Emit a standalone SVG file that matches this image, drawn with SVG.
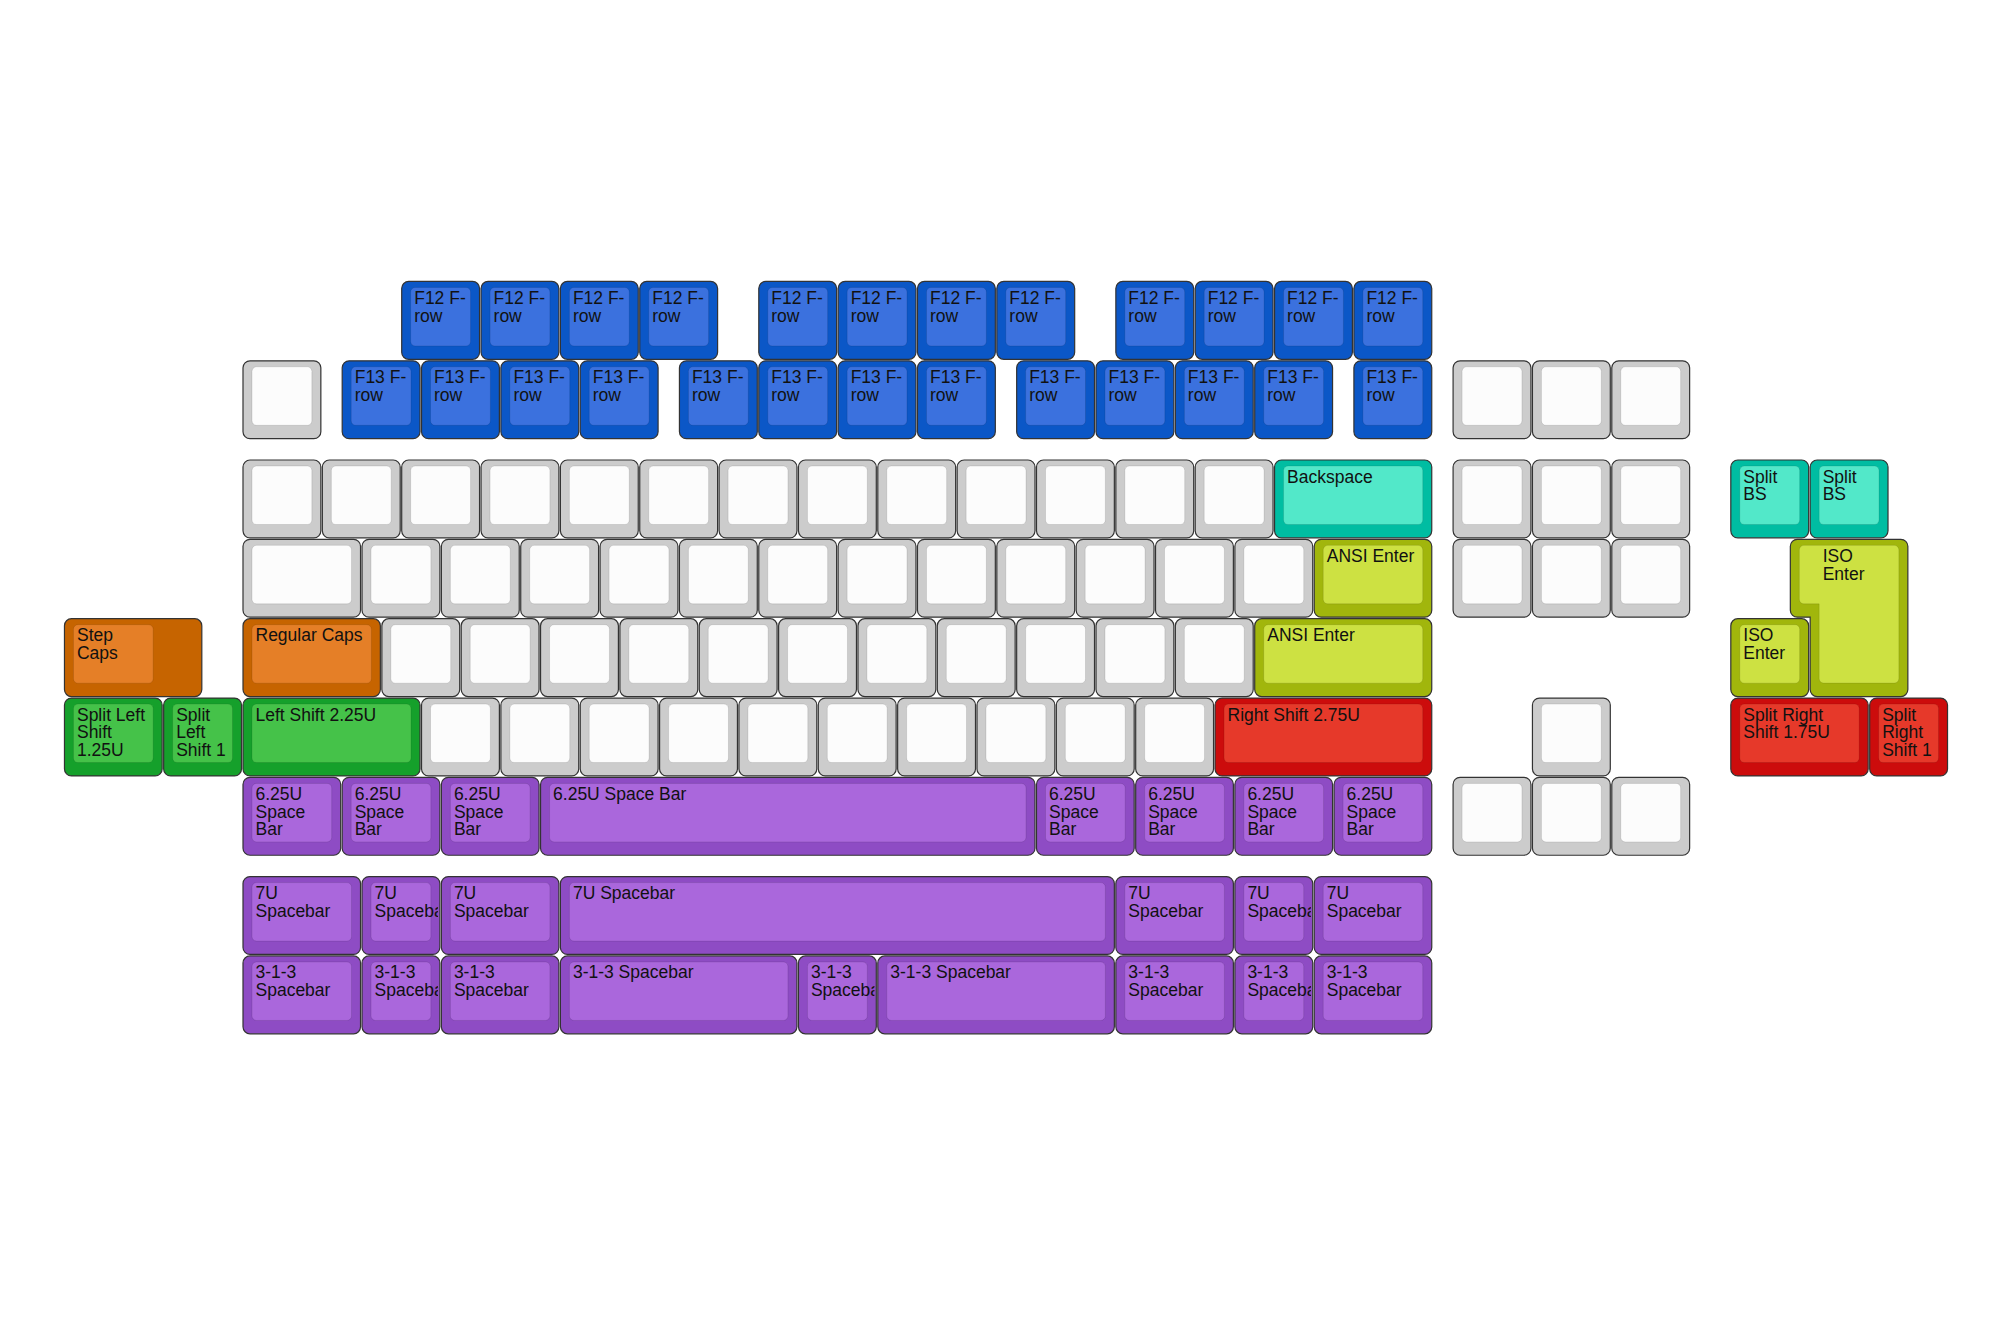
<svg xmlns="http://www.w3.org/2000/svg" width="2000" height="1333" viewBox="0 0 2000 1333">
<style>
.o{stroke:#333;stroke-width:1.2}
.i{stroke:#000;stroke-opacity:.1;stroke-width:1}
.og{fill:#cccccc}.ig{fill:#fcfcfc}
.ob{fill:#0b57c7}.ib{fill:#3b71de}
.ot{fill:#00bda2}.it{fill:#52e8c9}
.oy{fill:#a1b60c}.iy{fill:#cde142}
.oo{fill:#c66400}.io{fill:#e57f27}
.ogr{fill:#15a02b}.igr{fill:#45c249}
.or{fill:#cc0c0c}.ir{fill:#e6392a}
.op{fill:#8e4cc4}.ip{fill:#aa67dc}
text{font-family:"Liberation Sans",Arial,Helvetica,sans-serif;font-size:17.5px;fill:#111}
</style>
<defs>
<clipPath id="c1" clipPathUnits="userSpaceOnUse"><rect x="0" y="0" width="76" height="78"/></clipPath>
<g id="g1"><rect class="o og" width="77.85" height="77.85" rx="7"/><rect class="i ig" x="9" y="6" width="59.85" height="58.5" rx="4.5"/></g>
<g id="p1"><rect class="o op" width="77.85" height="77.85" rx="7"/><rect class="i ip" x="9" y="6" width="59.85" height="58.5" rx="4.5"/></g>
<g id="f12"><rect class="o ob" width="77.85" height="77.85" rx="7"/><rect class="i ib" x="9" y="6" width="59.85" height="58.5" rx="4.5"/><text x="12.5" y="22.5">F12 F-<tspan x="12.5" dy="17.7">row</tspan></text></g>
<g id="f13"><rect class="o ob" width="77.85" height="77.85" rx="7"/><rect class="i ib" x="9" y="6" width="59.85" height="58.5" rx="4.5"/><text x="12.5" y="22.5">F13 F-<tspan x="12.5" dy="17.7">row</tspan></text></g>
<g id="p125"><rect class="o op" width="97.69" height="77.85" rx="7"/><rect class="i ip" x="9" y="6" width="79.69" height="58.5" rx="4.5"/><text x="12.5" y="22.5">6.25U<tspan x="12.5" dy="17.7">Space</tspan><tspan x="12.5" dy="17.7">Bar</tspan></text></g>
<g id="p15"><rect class="o op" width="117.53" height="77.85" rx="7"/><rect class="i ip" x="9" y="6" width="99.53" height="58.5" rx="4.5"/></g>
</defs>
<rect width="2000" height="1333" fill="#ffffff"/>

<g id="row-f12">
<g id="f12-1" transform="translate(401.7,281.46)"><use href="#f12"/></g>
<g id="f12-2" transform="translate(481.05,281.46)"><use href="#f12"/></g>
<g id="f12-3" transform="translate(560.4,281.46)"><use href="#f12"/></g>
<g id="f12-4" transform="translate(639.75,281.46)"><use href="#f12"/></g>
<g id="f12-5" transform="translate(758.78,281.46)"><use href="#f12"/></g>
<g id="f12-6" transform="translate(838.13,281.46)"><use href="#f12"/></g>
<g id="f12-7" transform="translate(917.48,281.46)"><use href="#f12"/></g>
<g id="f12-8" transform="translate(996.83,281.46)"><use href="#f12"/></g>
<g id="f12-9" transform="translate(1115.85,281.46)"><use href="#f12"/></g>
<g id="f12-10" transform="translate(1195.2,281.46)"><use href="#f12"/></g>
<g id="f12-11" transform="translate(1274.55,281.46)"><use href="#f12"/></g>
<g id="f12-12" transform="translate(1353.9,281.46)"><use href="#f12"/></g>
</g>

<g id="row-f13">
<g id="esc" transform="translate(243,360.81)"><use href="#g1"/></g>
<g id="f13-1" transform="translate(342.19,360.81)"><use href="#f13"/></g>
<g id="f13-2" transform="translate(421.54,360.81)"><use href="#f13"/></g>
<g id="f13-3" transform="translate(500.89,360.81)"><use href="#f13"/></g>
<g id="f13-4" transform="translate(580.24,360.81)"><use href="#f13"/></g>
<g id="f13-5" transform="translate(679.43,360.81)"><use href="#f13"/></g>
<g id="f13-6" transform="translate(758.78,360.81)"><use href="#f13"/></g>
<g id="f13-7" transform="translate(838.13,360.81)"><use href="#f13"/></g>
<g id="f13-8" transform="translate(917.48,360.81)"><use href="#f13"/></g>
<g id="f13-9" transform="translate(1016.66,360.81)"><use href="#f13"/></g>
<g id="f13-10" transform="translate(1096.01,360.81)"><use href="#f13"/></g>
<g id="f13-11" transform="translate(1175.36,360.81)"><use href="#f13"/></g>
<g id="f13-12" transform="translate(1254.71,360.81)"><use href="#f13"/></g>
<g id="f13-13" transform="translate(1353.9,360.81)"><use href="#f13"/></g>
<g id="nav0-1" transform="translate(1453.09,360.81)"><use href="#g1"/></g>
<g id="nav0-2" transform="translate(1532.44,360.81)"><use href="#g1"/></g>
<g id="nav0-3" transform="translate(1611.79,360.81)"><use href="#g1"/></g>
</g>

<g id="row-num">
<g id="n1" transform="translate(243,460)"><use href="#g1"/></g>
<g id="n2" transform="translate(322.35,460)"><use href="#g1"/></g>
<g id="n3" transform="translate(401.7,460)"><use href="#g1"/></g>
<g id="n4" transform="translate(481.05,460)"><use href="#g1"/></g>
<g id="n5" transform="translate(560.4,460)"><use href="#g1"/></g>
<g id="n6" transform="translate(639.75,460)"><use href="#g1"/></g>
<g id="n7" transform="translate(719.1,460)"><use href="#g1"/></g>
<g id="n8" transform="translate(798.45,460)"><use href="#g1"/></g>
<g id="n9" transform="translate(877.8,460)"><use href="#g1"/></g>
<g id="n10" transform="translate(957.15,460)"><use href="#g1"/></g>
<g id="n11" transform="translate(1036.5,460)"><use href="#g1"/></g>
<g id="n12" transform="translate(1115.85,460)"><use href="#g1"/></g>
<g id="n13" transform="translate(1195.2,460)"><use href="#g1"/></g>
<g id="backspace" transform="translate(1274.55,460)"><rect class="o ot" width="157.2" height="77.85" rx="7"/><rect class="i it" x="9" y="6" width="139.2" height="58.5" rx="4.5"/><text x="12.5" y="22.5">Backspace</text></g>
<g id="nav1-1" transform="translate(1453.09,460)"><use href="#g1"/></g>
<g id="nav1-2" transform="translate(1532.44,460)"><use href="#g1"/></g>
<g id="nav1-3" transform="translate(1611.79,460)"><use href="#g1"/></g>
<g id="split-bs-1" transform="translate(1730.81,460)"><rect class="o ot" width="77.85" height="77.85" rx="7"/><rect class="i it" x="9" y="6" width="59.85" height="58.5" rx="4.5"/><text x="12.5" y="22.5">Split<tspan x="12.5" dy="17.7">BS</tspan></text></g>
<g id="split-bs-2" transform="translate(1810.16,460)"><rect class="o ot" width="77.85" height="77.85" rx="7"/><rect class="i it" x="9" y="6" width="59.85" height="58.5" rx="4.5"/><text x="12.5" y="22.5">Split<tspan x="12.5" dy="17.7">BS</tspan></text></g>
</g>

<g id="row-tab">
<g id="tab" transform="translate(243,539.35)"><rect class="o og" width="117.53" height="77.85" rx="7"/><rect class="i ig" x="9" y="6" width="99.53" height="58.5" rx="4.5"/></g>
<g id="t1" transform="translate(362.03,539.35)"><use href="#g1"/></g>
<g id="t2" transform="translate(441.38,539.35)"><use href="#g1"/></g>
<g id="t3" transform="translate(520.73,539.35)"><use href="#g1"/></g>
<g id="t4" transform="translate(600.08,539.35)"><use href="#g1"/></g>
<g id="t5" transform="translate(679.43,539.35)"><use href="#g1"/></g>
<g id="t6" transform="translate(758.78,539.35)"><use href="#g1"/></g>
<g id="t7" transform="translate(838.13,539.35)"><use href="#g1"/></g>
<g id="t8" transform="translate(917.48,539.35)"><use href="#g1"/></g>
<g id="t9" transform="translate(996.83,539.35)"><use href="#g1"/></g>
<g id="t10" transform="translate(1076.18,539.35)"><use href="#g1"/></g>
<g id="t11" transform="translate(1155.53,539.35)"><use href="#g1"/></g>
<g id="t12" transform="translate(1234.88,539.35)"><use href="#g1"/></g>
<g id="ansi-enter-1" transform="translate(1314.23,539.35)"><rect class="o oy" width="117.53" height="77.85" rx="7"/><rect class="i iy" x="9" y="6" width="99.53" height="58.5" rx="4.5"/><text x="12.5" y="22.5">ANSI Enter</text></g>
<g id="nav2-1" transform="translate(1453.09,539.35)"><use href="#g1"/></g>
<g id="nav2-2" transform="translate(1532.44,539.35)"><use href="#g1"/></g>
<g id="nav2-3" transform="translate(1611.79,539.35)"><use href="#g1"/></g>
<g id="iso-enter-big" transform="translate(1790.33,539.35)"><path class="o oy" d="M7,0 H110.53 A7,7 0 0 1 117.53,7 V150.2 A7,7 0 0 1 110.53,157.2 H26.83 A7,7 0 0 1 19.83,150.2 V77.85 H7 A7,7 0 0 1 0,70.85 V7 A7,7 0 0 1 7,0 Z"/><path class="i iy" d="M13.5,6 H104.03 A4.5,4.5 0 0 1 108.53,10.5 V139.2 A4.5,4.5 0 0 1 104.03,143.7 H33.33 A4.5,4.5 0 0 1 28.83,139.2 V64.5 H13.5 A4.5,4.5 0 0 1 9,60 V10.5 A4.5,4.5 0 0 1 13.5,6 Z"/><text x="32.33" y="22.5">ISO<tspan x="32.33" dy="17.7">Enter</tspan></text></g>
</g>

<g id="row-caps">
<g id="step-caps" transform="translate(64.46,618.7)"><rect class="o oo" width="137.36" height="77.85" rx="7"/><rect class="i io" x="9" y="6" width="79.69" height="58.5" rx="4.5"/><text x="12.5" y="22.5">Step<tspan x="12.5" dy="17.7">Caps</tspan></text></g>
<g id="regular-caps" transform="translate(243,618.7)"><rect class="o oo" width="137.36" height="77.85" rx="7"/><rect class="i io" x="9" y="6" width="119.36" height="58.5" rx="4.5"/><text x="12.5" y="22.5">Regular Caps</text></g>
<g id="c1k" transform="translate(381.86,618.7)"><use href="#g1"/></g>
<g id="c2k" transform="translate(461.21,618.7)"><use href="#g1"/></g>
<g id="c3k" transform="translate(540.56,618.7)"><use href="#g1"/></g>
<g id="c4k" transform="translate(619.91,618.7)"><use href="#g1"/></g>
<g id="c5k" transform="translate(699.26,618.7)"><use href="#g1"/></g>
<g id="c6k" transform="translate(778.61,618.7)"><use href="#g1"/></g>
<g id="c7k" transform="translate(857.96,618.7)"><use href="#g1"/></g>
<g id="c8k" transform="translate(937.31,618.7)"><use href="#g1"/></g>
<g id="c9k" transform="translate(1016.66,618.7)"><use href="#g1"/></g>
<g id="c10k" transform="translate(1096.01,618.7)"><use href="#g1"/></g>
<g id="c11k" transform="translate(1175.36,618.7)"><use href="#g1"/></g>
<g id="ansi-enter-2" transform="translate(1254.71,618.7)"><rect class="o oy" width="177.04" height="77.85" rx="7"/><rect class="i iy" x="9" y="6" width="159.04" height="58.5" rx="4.5"/><text x="12.5" y="22.5">ANSI Enter</text></g>
<g id="iso-enter-small" transform="translate(1730.81,618.7)"><rect class="o oy" width="77.85" height="77.85" rx="7"/><rect class="i iy" x="9" y="6" width="59.85" height="58.5" rx="4.5"/><text x="12.5" y="22.5">ISO<tspan x="12.5" dy="17.7">Enter</tspan></text></g>
</g>

<g id="row-shift">
<g id="split-left-shift-125" transform="translate(64.46,698.05)"><rect class="o ogr" width="97.69" height="77.85" rx="7"/><rect class="i igr" x="9" y="6" width="79.69" height="58.5" rx="4.5"/><text x="12.5" y="22.5">Split Left<tspan x="12.5" dy="17.7">Shift</tspan><tspan x="12.5" dy="17.7">1.25U</tspan></text></g>
<g id="split-left-shift-1" transform="translate(163.65,698.05)"><rect class="o ogr" width="77.85" height="77.85" rx="7"/><rect class="i igr" x="9" y="6" width="59.85" height="58.5" rx="4.5"/><text x="12.5" y="22.5">Split<tspan x="12.5" dy="17.7">Left</tspan><tspan x="12.5" dy="17.7">Shift 1</tspan></text></g>
<g id="left-shift" transform="translate(243,698.05)"><rect class="o ogr" width="177.04" height="77.85" rx="7"/><rect class="i igr" x="9" y="6" width="159.04" height="58.5" rx="4.5"/><text x="12.5" y="22.5">Left Shift 2.25U</text></g>
<g id="s1" transform="translate(421.54,698.05)"><use href="#g1"/></g>
<g id="s2" transform="translate(500.89,698.05)"><use href="#g1"/></g>
<g id="s3" transform="translate(580.24,698.05)"><use href="#g1"/></g>
<g id="s4" transform="translate(659.59,698.05)"><use href="#g1"/></g>
<g id="s5" transform="translate(738.94,698.05)"><use href="#g1"/></g>
<g id="s6" transform="translate(818.29,698.05)"><use href="#g1"/></g>
<g id="s7" transform="translate(897.64,698.05)"><use href="#g1"/></g>
<g id="s8" transform="translate(976.99,698.05)"><use href="#g1"/></g>
<g id="s9" transform="translate(1056.34,698.05)"><use href="#g1"/></g>
<g id="s10" transform="translate(1135.69,698.05)"><use href="#g1"/></g>
<g id="right-shift" transform="translate(1215.04,698.05)"><rect class="o or" width="216.71" height="77.85" rx="7"/><rect class="i ir" x="9" y="6" width="198.71" height="58.5" rx="4.5"/><text x="12.5" y="22.5">Right Shift 2.75U</text></g>
<g id="arrow-up" transform="translate(1532.44,698.05)"><use href="#g1"/></g>
<g id="split-right-shift-175" transform="translate(1730.81,698.05)"><rect class="o or" width="137.36" height="77.85" rx="7"/><rect class="i ir" x="9" y="6" width="119.36" height="58.5" rx="4.5"/><text x="12.5" y="22.5">Split Right<tspan x="12.5" dy="17.7">Shift 1.75U</tspan></text></g>
<g id="split-right-shift-1" transform="translate(1869.68,698.05)"><rect class="o or" width="77.85" height="77.85" rx="7"/><rect class="i ir" x="9" y="6" width="59.85" height="58.5" rx="4.5"/><text x="12.5" y="22.5">Split<tspan x="12.5" dy="17.7">Right</tspan><tspan x="12.5" dy="17.7">Shift 1</tspan></text></g>
</g>

<g id="row-625">
<g id="b625-1" transform="translate(243,777.4)"><use href="#p125"/></g>
<g id="b625-2" transform="translate(342.19,777.4)"><use href="#p125"/></g>
<g id="b625-3" transform="translate(441.38,777.4)"><use href="#p125"/></g>
<g id="space-625" transform="translate(540.56,777.4)"><rect class="o op" width="494.44" height="77.85" rx="7"/><rect class="i ip" x="9" y="6" width="476.44" height="58.5" rx="4.5"/><text x="12.5" y="22.5">6.25U Space Bar</text></g>
<g id="b625-4" transform="translate(1036.5,777.4)"><use href="#p125"/></g>
<g id="b625-5" transform="translate(1135.69,777.4)"><use href="#p125"/></g>
<g id="b625-6" transform="translate(1234.88,777.4)"><use href="#p125"/></g>
<g id="b625-7" transform="translate(1334.06,777.4)"><use href="#p125"/></g>
<g id="arrow-left" transform="translate(1453.09,777.4)"><use href="#g1"/></g>
<g id="arrow-down" transform="translate(1532.44,777.4)"><use href="#g1"/></g>
<g id="arrow-right" transform="translate(1611.79,777.4)"><use href="#g1"/></g>
</g>

<g id="row-7u">
<g id="b7-1" transform="translate(243,876.59)"><use href="#p15"/><text x="12.5" y="22.5">7U<tspan x="12.5" dy="17.7">Spacebar</tspan></text></g>
<g id="b7-2" transform="translate(362.03,876.59)"><use href="#p1"/><text x="12.5" y="22.5" clip-path="url(#c1)">7U<tspan x="12.5" dy="17.7">Spacebar</tspan></text></g>
<g id="b7-3" transform="translate(441.38,876.59)"><use href="#p15"/><text x="12.5" y="22.5">7U<tspan x="12.5" dy="17.7">Spacebar</tspan></text></g>
<g id="space-7u" transform="translate(560.4,876.59)"><rect class="o op" width="553.95" height="77.85" rx="7"/><rect class="i ip" x="9" y="6" width="535.95" height="58.5" rx="4.5"/><text x="12.5" y="22.5">7U Spacebar</text></g>
<g id="b7-4" transform="translate(1115.85,876.59)"><use href="#p15"/><text x="12.5" y="22.5">7U<tspan x="12.5" dy="17.7">Spacebar</tspan></text></g>
<g id="b7-5" transform="translate(1234.88,876.59)"><use href="#p1"/><text x="12.5" y="22.5" clip-path="url(#c1)">7U<tspan x="12.5" dy="17.7">Spacebar</tspan></text></g>
<g id="b7-6" transform="translate(1314.23,876.59)"><use href="#p15"/><text x="12.5" y="22.5">7U<tspan x="12.5" dy="17.7">Spacebar</tspan></text></g>
</g>

<g id="row-313">
<g id="b313-1" transform="translate(243,955.94)"><use href="#p15"/><text x="12.5" y="22.5">3-1-3<tspan x="12.5" dy="17.7">Spacebar</tspan></text></g>
<g id="b313-2" transform="translate(362.03,955.94)"><use href="#p1"/><text x="12.5" y="22.5" clip-path="url(#c1)">3-1-3<tspan x="12.5" dy="17.7">Spacebar</tspan></text></g>
<g id="b313-3" transform="translate(441.38,955.94)"><use href="#p15"/><text x="12.5" y="22.5">3-1-3<tspan x="12.5" dy="17.7">Spacebar</tspan></text></g>
<g id="space-313-left" transform="translate(560.4,955.94)"><rect class="o op" width="236.55" height="77.85" rx="7"/><rect class="i ip" x="9" y="6" width="218.55" height="58.5" rx="4.5"/><text x="12.5" y="22.5">3-1-3 Spacebar</text></g>
<g id="b313-mid" transform="translate(798.45,955.94)"><use href="#p1"/><text x="12.5" y="22.5" clip-path="url(#c1)">3-1-3<tspan x="12.5" dy="17.7">Spacebar</tspan></text></g>
<g id="space-313-right" transform="translate(877.8,955.94)"><rect class="o op" width="236.55" height="77.85" rx="7"/><rect class="i ip" x="9" y="6" width="218.55" height="58.5" rx="4.5"/><text x="12.5" y="22.5">3-1-3 Spacebar</text></g>
<g id="b313-4" transform="translate(1115.85,955.94)"><use href="#p15"/><text x="12.5" y="22.5">3-1-3<tspan x="12.5" dy="17.7">Spacebar</tspan></text></g>
<g id="b313-5" transform="translate(1234.88,955.94)"><use href="#p1"/><text x="12.5" y="22.5" clip-path="url(#c1)">3-1-3<tspan x="12.5" dy="17.7">Spacebar</tspan></text></g>
<g id="b313-6" transform="translate(1314.23,955.94)"><use href="#p15"/><text x="12.5" y="22.5">3-1-3<tspan x="12.5" dy="17.7">Spacebar</tspan></text></g>
</g>

<g id="connectors"></g>
</svg>
